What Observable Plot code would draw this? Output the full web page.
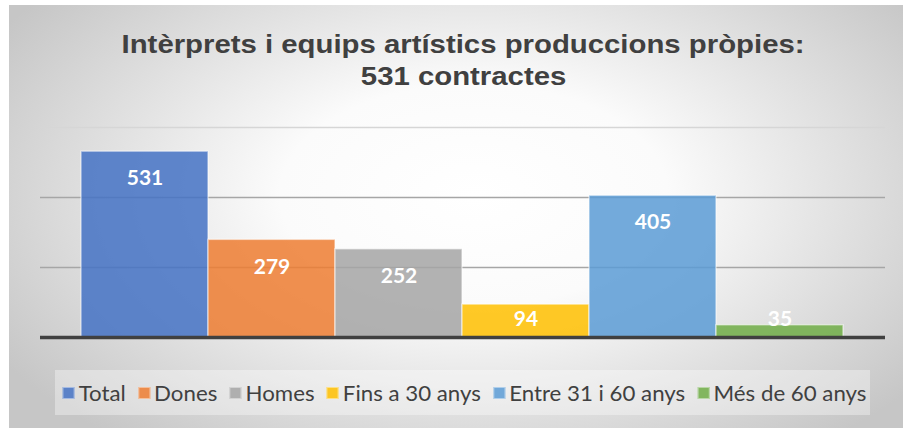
<!DOCTYPE html>
<html>
<head>
<meta charset="utf-8">
<script src="https://cdn.jsdelivr.net/npm/d3@7"></script>
<script src="https://cdn.jsdelivr.net/npm/@observablehq/plot@0.6"></script>
<style>
  html, body { margin: 0; padding: 0; background: #ffffff; }
  #wrap { position: relative; width: 903px; height: 428px; overflow: hidden; background: #ffffff; }
  #bg { position: absolute; left: 9px; top: 5px; width: 894px; height: 423px;
        background: radial-gradient(ellipse 62% 75% at 52% 45%, #ffffff 0%, #fbfbfb 35%, #c6c6c6 100%); }
  #title { position: absolute; left: 12px; top: 28px; width: 903px; text-align: center;
           font-family: "Liberation Sans", Arial, sans-serif; font-weight: bold; font-size: 25px;
           line-height: 32px; color: #404040; }
  #title span { display: inline-block; white-space: nowrap; transform-origin: center; }
  #chart { position: absolute; left: 0; top: 0; }
  #legendbox { position: absolute; left: 55px; top: 370px; width: 815px; height: 45px; background: rgba(255,255,255,0.35); }
  #legend { position: absolute; left: 13px; top: 377px; width: 903px; text-align: center;
            font-family: Lato, "Open Sans", sans-serif; font-size: 22px; color: #404040; line-height: 28px; }
  #legend .inner { display: inline-flex; white-space: nowrap; align-items: center; transform-origin: center; }
  #legend .item { display: inline-flex; align-items: center; margin-right: 12px; }
  #legend .item:last-child { margin-right: 0; }
  #legend .sw { display: inline-block; width: 10px; height: 10px; margin-right: 4px; border: 1.5px solid rgba(255,255,255,0.45); }
</style>
</head>
<body>
<div id="wrap">
  <div id="bg"></div>
  <div id="title"><span id="t1">Intèrprets i equips artístics produccions pròpies:</span><br><span id="t2">531 contractes</span></div>
  <div id="legendbox"></div>
  <div id="chart"></div>
  <div id="legend"><div class="inner" id="legendInner"></div></div>
</div>
<script>
const categories = ["Total", "Dones", "Homes", "Fins a 30 anys", "Entre 31 i 60 anys", "Més de 60 anys"];
const values = [531, 279, 252, 94, 405, 35];
const colors = ["#4472C4", "#ED7D31", "#A5A5A5", "#FFC000", "#5B9BD5", "#70AD47"];
const yTicks = [200, 400, 600];

const data = categories.map((c, i) => ({cat: c, value: values[i]}));

const plot = Plot.plot({
  width: 903,
  height: 428,
  marginLeft: 81,
  marginRight: 60,
  marginTop: 127,
  marginBottom: 91,
  style: {background: "transparent", overflow: "visible"},
  x: {domain: categories, padding: 0, axis: null},
  y: {domain: [0, 600], axis: null},
  color: {domain: categories, range: colors},
  marks: [
    Plot.ruleY(yTicks, {stroke: d => d === 600 ? "#d6d6d6" : "#a6a6a6", strokeWidth: 1.5, insetLeft: -41, insetRight: -42}),
    Plot.barY(data, {x: "cat", y: "value", fill: "cat", fillOpacity: 0.85, stroke: "#ffffff", strokeOpacity: 0.5, strokeWidth: 1.5}),
    Plot.ruleY([0], {stroke: "#404040", strokeWidth: 3.5, insetLeft: -41, insetRight: -42}),
    Plot.text(data, {x: "cat", y: d => Math.max(d.value, 128), dy: 27, text: d => String(d.value),
      fill: "#ffffff", fontSize: 21, fontWeight: "bold", fontFamily: "Lato, 'Open Sans', sans-serif"})
  ]
});
document.getElementById("chart").appendChild(plot);

// legend
const inner = document.getElementById("legendInner");
categories.forEach((c, i) => {
  const item = document.createElement("span");
  item.className = "item";
  const sw = document.createElement("span");
  sw.className = "sw";
  sw.style.background = d3.color(colors[i]).copy({opacity: 0.85}).toString();
  const tx = document.createElement("span");
  tx.textContent = c;
  item.appendChild(sw);
  item.appendChild(tx);
  inner.appendChild(item);
});
const lw = inner.getBoundingClientRect().width;
inner.style.transform = `scaleX(${804 / lw})`;

// title fit
const t1 = document.getElementById("t1"), t2 = document.getElementById("t2");
const w1 = t1.getBoundingClientRect().width;
const s = 683 / w1;
t1.style.transform = `scaleX(${s})`;
t2.style.transform = `scaleX(${s})`;
</script>
</body>
</html>
